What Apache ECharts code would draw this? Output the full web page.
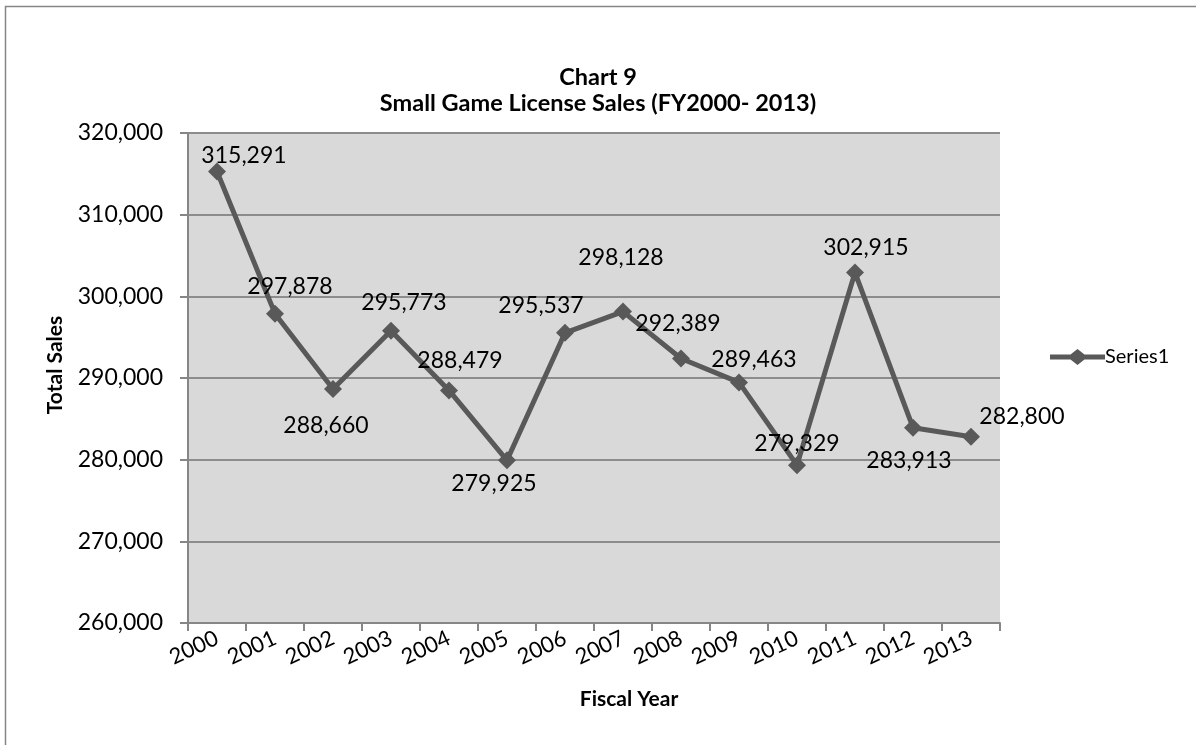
<!DOCTYPE html>
<html>
<head>
<meta charset="utf-8">
<script src="https://cdn.jsdelivr.net/npm/echarts@6/dist/echarts.min.js"></script>
<style>
html,body{margin:0;padding:0;background:#fff;}
#chart{width:1196px;height:745px;}
</style>
</head>
<body>
<div id="chart"></div>
<script>
// ---- data ----
var years = ['2000','2001','2002','2003','2004','2005','2006','2007','2008','2009','2010','2011','2012','2013'];
var sales = [315291, 297878, 288660, 295773, 288479, 279925, 295537, 298128, 292389, 289463, 279329, 302915, 283913, 282800];
var yTicks = [260000, 270000, 280000, 290000, 300000, 310000, 320000];
// label placement offsets (px) for each data label, as in the reference
var labelOffsets = [[27,-16],[15,-27],[-7,37],[13,-28],[11,-30],[-13,23],[-24,-27],[-2,-54],[-3,-35],[15,-23],[0,-22],[11,-25],[-4,33],[51,-20]];

var FONT = 'Lato';
function fmt(v){ return v.toLocaleString('en-US'); }

var chart = echarts.init(document.getElementById('chart'), null, {renderer:'canvas'});
var seriesData = sales.map(function(v,i){
  return {value:v, label:{offset: labelOffsets[i]}};
});

chart.setOption({
  animation:false,
  backgroundColor:'#ffffff',
  textStyle:{fontFamily:FONT},
  graphic:[{
    type:'rect', z:-10, silent:true,
    shape:{x:5.5, y:6.5, width:1220, height:780},
    style:{fill:'#ffffff', stroke:'#868686', lineWidth:1.5}
  }],
  title:{
    text:'Chart 9\nSmall Game License Sales (FY2000- 2013)',
    left:'center', top:59,
    textStyle:{fontFamily:FONT, fontWeight:'bold', fontSize:23.5, lineHeight:26, color:'#000'}
  },
  legend:{
    left:1045, top:342,
    itemWidth:55, itemHeight:16, itemGap:5,
    textStyle:{fontFamily:FONT, fontSize:20, color:'#000', padding:[0,0,0,-5]},
    data:[{name:'Series1', icon:'path://M0,5.5 L20.5,5.5 L27.5,0 L34.5,5.5 L55,5.5 L55,10.5 L34.5,10.5 L27.5,16 L20.5,10.5 L0,10.5 Z'}]
  },
  grid:{left:188, right:196, top:133, bottom:122, show:true, backgroundColor:'#D9D9D9', borderWidth:0},
  xAxis:{
    type:'category', data:years, boundaryGap:true,
    name:'Fiscal Year', nameLocation:'middle', nameGap:66,
    nameTextStyle:{fontFamily:FONT, fontWeight:'bold', fontSize:21, color:'#000', padding:[0,0,0,70]},
    axisLine:{lineStyle:{color:'#868686', width:2}},
    axisTick:{show:true, length:8, alignWithLabel:false, lineStyle:{color:'#868686', width:2}},
    axisLabel:{interval:0, rotate:25, margin:14, fontFamily:FONT, fontSize:22, color:'#000'}
  },
  yAxis:{
    type:'value', min:yTicks[0], max:yTicks[yTicks.length-1], interval:10000,
    name:'Total Sales', nameLocation:'middle', nameGap:122, nameRotate:90,
    nameTextStyle:{fontFamily:FONT, fontWeight:'bold', fontSize:21, color:'#000', padding:[0,0,0,26]},
    axisLine:{show:true, lineStyle:{color:'#868686', width:2}},
    axisTick:{show:true, length:8, lineStyle:{color:'#868686', width:2}},
    splitLine:{show:true, lineStyle:{color:'#8C8C8C', width:2}},
    axisLabel:{margin:25, fontFamily:FONT, fontSize:23, color:'#000', formatter:function(v){return fmt(v);}}
  },
  series:[{
    name:'Series1', type:'line', data:seriesData,
    symbol:'diamond', symbolSize:18,
    lineStyle:{color:'#595959', width:5},
    itemStyle:{color:'#595959'},
    label:{show:true, position:'inside', fontFamily:FONT, fontSize:23, color:'#000', formatter:function(p){return fmt(p.value);}}
  }]
});
</script>
</body>
</html>
